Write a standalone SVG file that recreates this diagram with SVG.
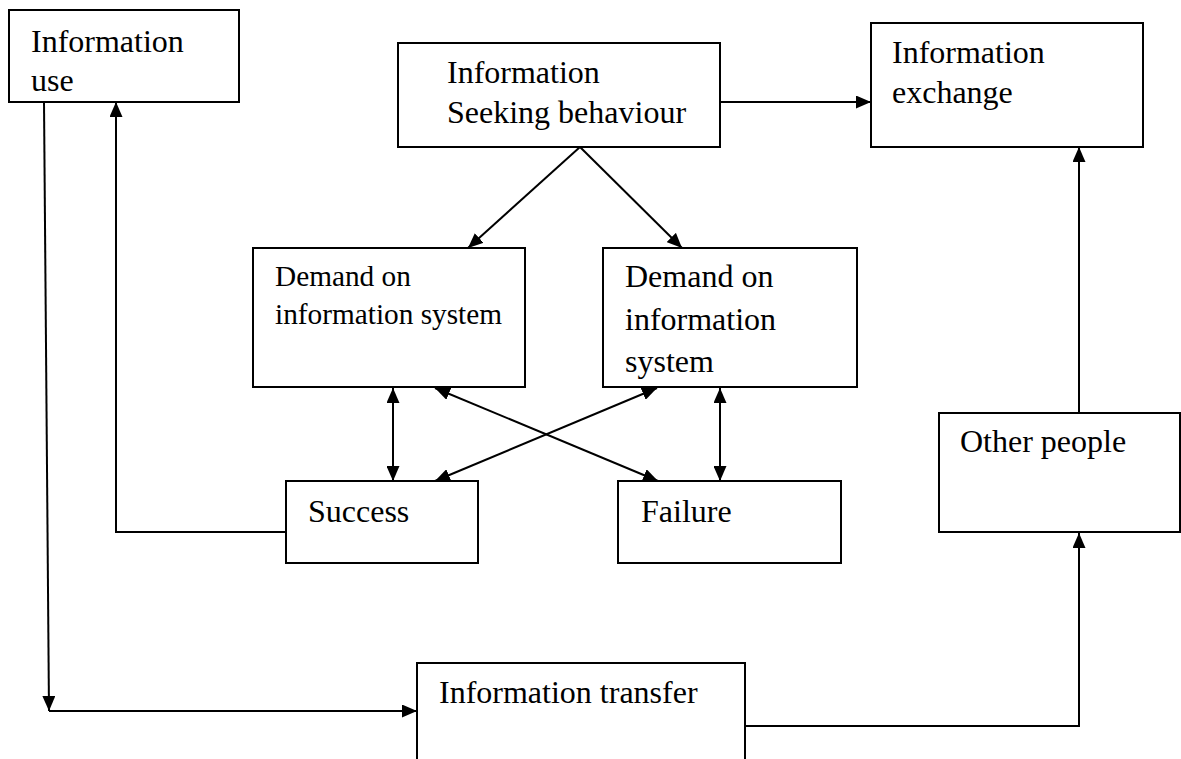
<svg xmlns="http://www.w3.org/2000/svg" width="1181" height="759" viewBox="0 0 1181 759">
<style>
  .box { fill: #ffffff; stroke: #000000; stroke-width: 2; }
  .t { font-family: 'Liberation Serif', 'Times New Roman', 'DejaVu Serif', serif; font-size: 32px; fill: #000000; }
  .ts { font-family: 'Liberation Serif', 'Times New Roman', 'DejaVu Serif', serif; font-size: 29.3px; fill: #000000; }
  .c { fill: none; stroke: #000000; stroke-width: 2; }
  .a { marker-end: url(#arr); }
  .d { marker-start: url(#arr); marker-end: url(#arr); }
</style>
<defs>
  <marker id="arr" viewBox="0 0 15 13" refX="15" refY="6.5" markerWidth="15" markerHeight="13" markerUnits="userSpaceOnUse" orient="auto-start-reverse">
    <path d="M0,0 L15,6.5 L0,13 z" fill="#000000"/>
  </marker>
</defs>
<rect width="1181" height="759" fill="#ffffff"/>

<g id="connectors">
  <line class="c a" x1="720" y1="102" x2="871" y2="102"/>
  <line class="c a" x1="580" y1="147" x2="468" y2="248"/>
  <line class="c a" x1="580" y1="147" x2="682" y2="248"/>
  <line class="c d" x1="393" y1="388" x2="393" y2="481"/>
  <line class="c d" x1="720" y1="388" x2="720" y2="481"/>
  <line class="c d" x1="435" y1="388" x2="658" y2="481"/>
  <line class="c d" x1="657" y1="388" x2="435" y2="481"/>
  <polyline class="c a" points="286,532 116,532 116,102"/>
  <line class="c a" x1="44" y1="102" x2="49" y2="711"/>
  <line class="c a" x1="49" y1="711" x2="417" y2="711"/>
  <polyline class="c a" points="745,726 1079,726 1079,533"/>
  <line class="c a" x1="1079" y1="413" x2="1079" y2="147"/>
</g>

<g id="info-use">
  <rect class="box" x="9" y="10" width="230" height="92"/>
  <text class="t" x="31" y="52">Information</text>
  <text class="t" x="31" y="91">use</text>
</g>

<g id="info-seeking">
  <rect class="box" x="398" y="43" width="322" height="104"/>
  <text class="t" x="447" y="83">Information</text>
  <text class="t" x="447" y="123">Seeking behaviour</text>
</g>

<g id="info-exchange">
  <rect class="box" x="871" y="23" width="272" height="124"/>
  <text class="t" x="892" y="63">Information</text>
  <text class="t" x="892" y="103">exchange</text>
</g>

<g id="demand-1">
  <rect class="box" x="253" y="248" width="272" height="139"/>
  <text class="ts" x="275" y="286">Demand on</text>
  <text class="ts" x="275" y="324">information system</text>
</g>

<g id="demand-2">
  <rect class="box" x="603" y="248" width="254" height="139"/>
  <text class="t" x="625" y="287">Demand on</text>
  <text class="t" x="625" y="330">information</text>
  <text class="t" x="625" y="372">system</text>
</g>

<g id="success">
  <rect class="box" x="286" y="481" width="192" height="82"/>
  <text class="t" x="308" y="522">Success</text>
</g>

<g id="failure">
  <rect class="box" x="618" y="481" width="223" height="82"/>
  <text class="t" x="641" y="522">Failure</text>
</g>

<g id="other-people">
  <rect class="box" x="939" y="413" width="241" height="119"/>
  <text class="t" x="960" y="452">Other people</text>
</g>

<g id="info-transfer">
  <rect class="box" x="417" y="663" width="328" height="110"/>
  <text class="t" x="439" y="703">Information transfer</text>
</g>
</svg>
